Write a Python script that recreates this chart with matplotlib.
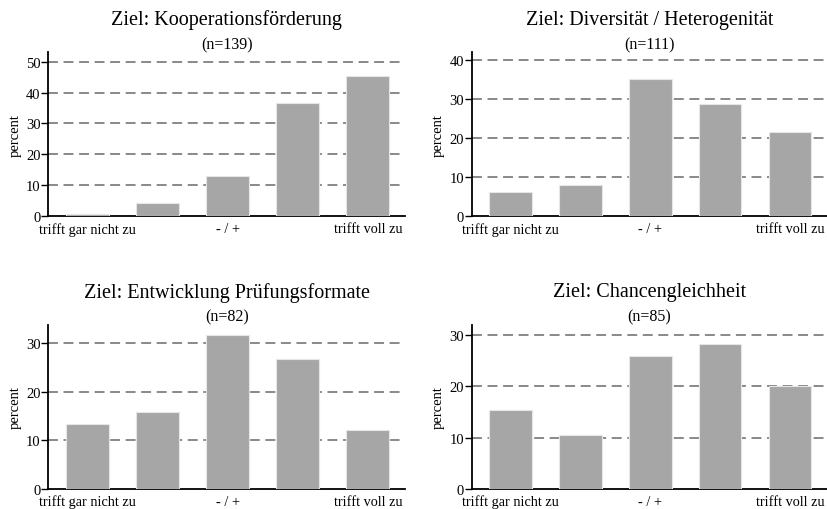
import matplotlib
matplotlib.use("Agg")
import matplotlib.pyplot as plt

plt.rcParams["font.family"] = ["Liberation Serif", "DejaVu Serif"]

# Antwortskala (5 Stufen), beschriftet nur an 1, 3, 5
positions = [1, 2, 3, 4, 5]
tick_pos = [1, 3, 5]
tick_labels = ["trifft gar nicht zu", "- / +", "trifft voll zu"]

titles = ["Ziel: Kooperationsförderung", "Ziel: Diversität / Heterogenität",
          "Ziel: Entwicklung Prüfungsformate", "Ziel: Chancengleichheit"]
n_values = [139, 111, 82, 85]

koop = [0.7, 4.3, 12.9, 36.7, 45.3]
divers = [6.3, 8.1, 35.1, 28.8, 21.6]
pruef = [13.4, 15.9, 31.7, 26.8, 12.2]
chancen = [15.3, 10.6, 25.9, 28.2, 20.0]
series = [koop, divers, pruef, chancen]

y_ticks = [[0, 10, 20, 30, 40, 50], [0, 10, 20, 30, 40], [0, 10, 20, 30], [0, 10, 20, 30]]
y_top = [53.1, 42.0, 33.7, 31.9]

W, H = 827, 510
fig = plt.figure(figsize=(W / 100, H / 100), dpi=100)

# Achsen in Pixeln: links, rechts, oben, unten
boxes = [(48.3, 405, 53, 217.3), (471.7, 827, 53, 217.3),
         (48.3, 405, 326, 490), (471.7, 827, 326, 490)]
title_y = [20, 45, 293, 317]

for i, (x0, x1, y0, y1) in enumerate(boxes):
    ax = fig.add_axes([x0 / W, 1 - y1 / H, (x1 - x0) / W, (y1 - y0) / H])
    ax.bar(positions, series[i], width=0.61, color="#a6a6a6",
           edgecolor="#e6e6e6", linewidth=0.8, zorder=3)
    ax.set_xlim(0.44, 5.53)
    ax.set_ylim(0, y_top[i])
    ax.set_yticks(y_ticks[i])
    ax.set_xticks(tick_pos)
    ax.set_xticklabels(tick_labels, fontsize=10.3)
    ax.tick_params(axis="x", length=0, pad=4)
    ax.tick_params(axis="y", length=5, width=1, pad=0.5, labelsize=10.5)
    for y in y_ticks[i][1:]:
        ax.axhline(y, color="#808080", linewidth=1.3, linestyle=(0, (5.5, 3.1)), zorder=1)
    for s in ["top", "right"]:
        ax.spines[s].set_visible(False)
    for s in ["left", "bottom"]:
        ax.spines[s].set_linewidth(1.3)
    ax.set_ylabel("percent", fontsize=10.5)
    ax.yaxis.set_label_coords(-27 / (x1 - x0), 0.5)

    cx = (x0 + x1) / 2 / W
    ty = title_y[0 if i < 2 else 2]
    sy = title_y[1 if i < 2 else 3]
    fig.text(cx, 1 - ty / H, titles[i], ha="center", va="center", fontsize=14.5)
    fig.text(cx, 1 - sy / H, "(n=%d)" % n_values[i], ha="center", va="center", fontsize=11.5)

fig.savefig("out.png", dpi=100)
